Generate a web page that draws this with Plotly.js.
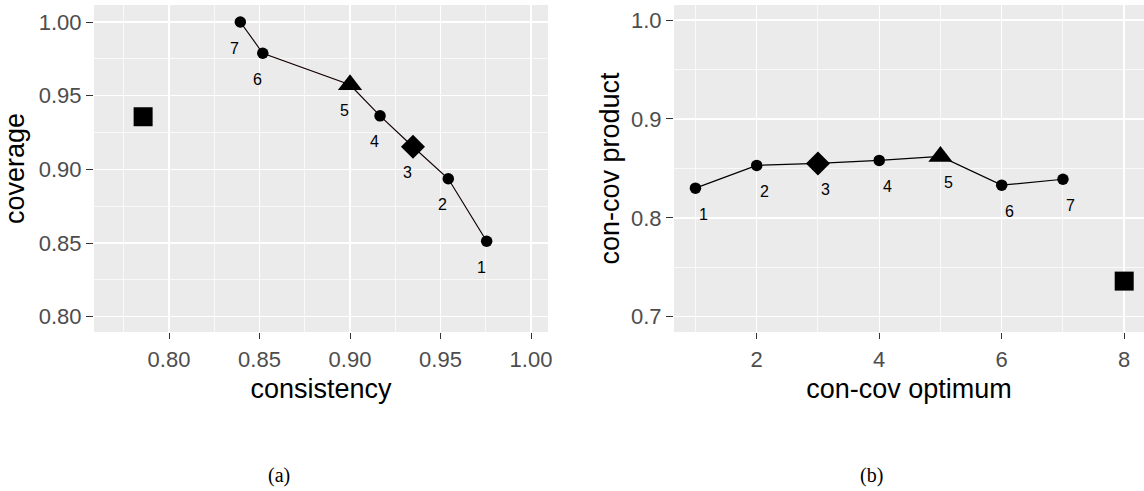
<!DOCTYPE html>
<html>
<head>
<meta charset="utf-8">
<script src="https://cdn.plot.ly/plotly-3.0.1.min.js"></script>
<style>
  html, body { margin: 0; padding: 0; background: #ffffff; }
  #chart { width: 1144px; height: 491px; }
</style>
</head>
<body>
<div id="chart"></div>
<script>
// ---- data ----
const pointLabels = ['1', '2', '3', '4', '5', '6', '7'];
const consistency = [0.9755, 0.9543, 0.9348, 0.9166, 0.9000, 0.8518, 0.8394];
const coverage = [0.8512, 0.8936, 0.9153, 0.9363, 0.9574, 0.9788, 1.000];
const baseConsistency = [0.7857];
const baseCoverage = [0.9357];

const optimum = [1, 2, 3, 4, 5, 6, 7];
const product = [0.830, 0.853, 0.855, 0.858, 0.862, 0.833, 0.839];
const baseOptimum = [8];
const baseProduct = [0.736];

const leftXTicks = [0.80, 0.85, 0.90, 0.95, 1.00];
const leftXTickText = ['0.80', '0.85', '0.90', '0.95', '1.00'];
const leftYTicks = [0.80, 0.85, 0.90, 0.95, 1.00];
const leftYTickText = ['0.80', '0.85', '0.90', '0.95', '1.00'];
const rightXTicks = [2, 4, 6, 8];
const rightXTickText = ['2', '4', '6', '8'];
const rightYTicks = [0.7, 0.8, 0.9, 1.0];
const rightYTickText = ['0.7', '0.8', '0.9', '1.0'];

// ---- styles ----
const shapes = ['circle', 'circle', 'diamond', 'circle', 'triangle-up', 'circle', 'circle'];
const sizes = [11.5, 11.5, 18.5, 11.5, 21, 11.5, 11.5];
const W = 1144, H = 491;
const px = v => v / W;
const py = v => (H - v) / H;

const traces = [
  {
    x: consistency, y: coverage, xaxis: 'x', yaxis: 'y',
    mode: 'lines+markers', type: 'scatter',
    line: { color: '#140000', width: 1.2 },
    marker: { symbol: shapes, size: sizes, color: '#000000', opacity: 1, line: { width: 0 } },
    showlegend: false
  },
  {
    x: baseConsistency, y: baseCoverage, xaxis: 'x', yaxis: 'y',
    mode: 'markers', type: 'scatter',
    marker: { symbol: 'square', size: 19, color: '#000000', opacity: 1, line: { width: 0 } },
    showlegend: false
  },
  {
    x: optimum, y: product, xaxis: 'x2', yaxis: 'y2',
    mode: 'lines+markers', type: 'scatter',
    line: { color: '#000000', width: 1.2 },
    marker: { symbol: shapes, size: sizes, color: '#000000', opacity: 1, line: { width: 0 } },
    showlegend: false
  },
  {
    x: baseOptimum, y: baseProduct, xaxis: 'x2', yaxis: 'y2',
    mode: 'markers', type: 'scatter',
    marker: { symbol: 'square', size: 19, color: '#000000', opacity: 1, line: { width: 0 } },
    showlegend: false
  }
];

const labelFont = { family: 'Liberation Sans, Arial, sans-serif', size: 16, color: '#000000' };
const annotations = [];
pointLabels.forEach((t, i) => {
  annotations.push({ xref: 'x', yref: 'y', x: consistency[i], y: coverage[i], text: t,
    showarrow: false, xshift: -5.5, yshift: -26, font: labelFont });
  annotations.push({ xref: 'x2', yref: 'y2', x: optimum[i], y: product[i], text: t,
    showarrow: false, xshift: 8, yshift: -26, font: labelFont });
});
const captionFont = { family: 'Liberation Serif, Times New Roman, serif', size: 20, color: '#000000' };
annotations.push({ xref: 'paper', yref: 'paper', x: px(279), y: py(475), text: '(a)',
  showarrow: false, xanchor: 'center', yanchor: 'middle', font: captionFont });
annotations.push({ xref: 'paper', yref: 'paper', x: px(872), y: py(475), text: '(b)',
  showarrow: false, xanchor: 'center', yanchor: 'middle', font: captionFont });

const tickFont = { family: 'Liberation Sans, Arial, sans-serif', size: 22, color: '#4D4D4D' };
const titleFont = { family: 'Liberation Sans, Arial, sans-serif', size: 27, color: '#000000' };

function axisBase(extra) {
  return Object.assign({
    showline: false, zeroline: false, showgrid: true,
    gridcolor: '#FFFFFF', gridwidth: 1.4,
    ticks: 'outside', ticklen: 6, tickwidth: 1, tickcolor: '#333333',
    tickfont: tickFont, tickmode: 'array', automargin: false,
    fixedrange: true
  }, extra);
}

const layout = {
  width: W, height: H,
  margin: { l: 0, r: 0, t: 0, b: 0, pad: 0 },
  paper_bgcolor: '#FFFFFF',
  plot_bgcolor: '#EBEBEB',
  showlegend: false,
  xaxis: axisBase({
    domain: [px(94), px(548)], range: [0.75856, 1.00939], anchor: 'y',
    tickvals: leftXTicks, ticktext: leftXTickText, ticklabelstandoff: 2,
    minor: { tickvals: [0.775, 0.825, 0.875, 0.925, 0.975], showgrid: true, gridcolor: '#FFFFFF', gridwidth: 0.7, ticks: '' },
    title: { text: 'consistency', font: titleFont, standoff: 7 }
  }),
  yaxis: axisBase({
    domain: [py(332), py(5)], range: [0.78962, 1.01154], anchor: 'x', ticklen: 7,
    tickvals: leftYTicks, ticktext: leftYTickText, ticklabelstandoff: 0,
    minor: { tickvals: [0.825, 0.875, 0.925, 0.975], showgrid: true, gridcolor: '#FFFFFF', gridwidth: 0.7, ticks: '' },
    title: { text: 'coverage', font: titleFont, standoff: 6 }
  }),
  xaxis2: axisBase({
    domain: [px(674), 1], range: [0.6498, 8.3233], anchor: 'y2',
    tickvals: rightXTicks, ticktext: rightXTickText, ticklabelstandoff: 2,
    minor: { tickvals: [1, 3, 5, 7], showgrid: true, gridcolor: '#FFFFFF', gridwidth: 0.7, ticks: '' },
    title: { text: 'con-cov optimum', font: titleFont, standoff: 7 }
  }),
  yaxis2: axisBase({
    domain: [py(332), py(5)], range: [0.68453, 1.01517], anchor: 'x2', ticklen: 7,
    tickvals: rightYTicks, ticktext: rightYTickText, ticklabelstandoff: 0,
    minor: { tickvals: [0.75, 0.85, 0.95], showgrid: true, gridcolor: '#FFFFFF', gridwidth: 0.7, ticks: '' },
    title: { text: 'con-cov product', font: titleFont, standoff: 3 }
  }),
  annotations: annotations
};

Plotly.newPlot('chart', traces, layout, { displayModeBar: false, staticPlot: true });
</script>
</body>
</html>
